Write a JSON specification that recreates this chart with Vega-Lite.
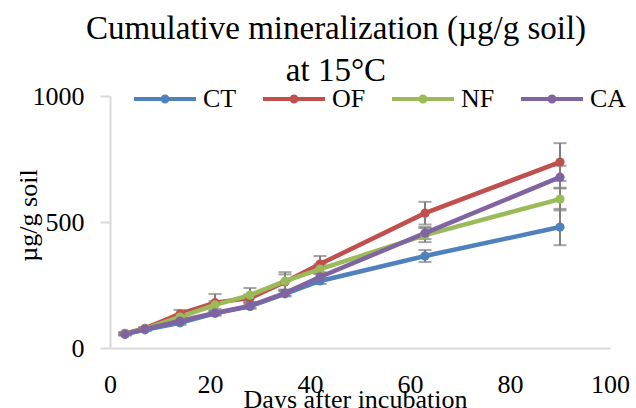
{
  "$schema": "https://vega.github.io/schema/vega-lite/v6.json",
  "width": 500,
  "height": 252,
  "autosize": "none",
  "padding": {"left": 110, "top": 96, "right": 26, "bottom": 60},
  "background": "white",
  "title": {
    "text": ["Cumulative mineralization (µg/g soil)", "at 15°C"],
    "font": "Liberation Serif",
    "fontSize": 33,
    "fontWeight": "normal",
    "color": "black",
    "lineHeight": 42,
    "anchor": "middle",
    "frame": "group",
    "dx": -24,
    "offset": -22
  },
  "config": {
    "font": "Liberation Serif",
    "view": {"stroke": null},
    "axis": {
      "grid": false,
      "domainColor": "#d9d9d9",
      "domainWidth": 2,
      "tickColor": "#d9d9d9",
      "tickWidth": 2,
      "labelFont": "Liberation Serif",
      "labelFontSize": 26,
      "labelColor": "black",
      "titleFont": "Liberation Serif",
      "titleFontSize": 26,
      "titleFontWeight": "normal",
      "titleColor": "black"
    }
  },
  "data": {
    "values": [
      {"day": 3, "treatment": "CT", "value": 55, "lo": 50, "hi": 60},
      {"day": 7, "treatment": "CT", "value": 72, "lo": 67, "hi": 77},
      {"day": 14, "treatment": "CT", "value": 100, "lo": 92, "hi": 108},
      {"day": 21, "treatment": "CT", "value": 138, "lo": 130, "hi": 146},
      {"day": 28, "treatment": "CT", "value": 165, "lo": 157, "hi": 173},
      {"day": 35, "treatment": "CT", "value": 215, "lo": 205, "hi": 225},
      {"day": 42, "treatment": "CT", "value": 266, "lo": 254, "hi": 278},
      {"day": 63, "treatment": "CT", "value": 365, "lo": 341, "hi": 389},
      {"day": 90, "treatment": "CT", "value": 480, "lo": 408, "hi": 552},
      {"day": 3, "treatment": "OF", "value": 58, "lo": 53, "hi": 63},
      {"day": 7, "treatment": "OF", "value": 78, "lo": 73, "hi": 83},
      {"day": 14, "treatment": "OF", "value": 135, "lo": 119, "hi": 151},
      {"day": 21, "treatment": "OF", "value": 180, "lo": 146, "hi": 214},
      {"day": 28, "treatment": "OF", "value": 198, "lo": 183, "hi": 213},
      {"day": 35, "treatment": "OF", "value": 262, "lo": 232, "hi": 292},
      {"day": 42, "treatment": "OF", "value": 333, "lo": 301, "hi": 365},
      {"day": 63, "treatment": "OF", "value": 535, "lo": 490, "hi": 580},
      {"day": 90, "treatment": "OF", "value": 738, "lo": 663, "hi": 813},
      {"day": 3, "treatment": "NF", "value": 57, "lo": 52, "hi": 62},
      {"day": 7, "treatment": "NF", "value": 76, "lo": 71, "hi": 81},
      {"day": 14, "treatment": "NF", "value": 123, "lo": 113, "hi": 133},
      {"day": 21, "treatment": "NF", "value": 171, "lo": 156, "hi": 186},
      {"day": 28, "treatment": "NF", "value": 210, "lo": 182, "hi": 238},
      {"day": 35, "treatment": "NF", "value": 265, "lo": 229, "hi": 301},
      {"day": 42, "treatment": "NF", "value": 313, "lo": 293, "hi": 333},
      {"day": 63, "treatment": "NF", "value": 448, "lo": 420, "hi": 476},
      {"day": 90, "treatment": "NF", "value": 591, "lo": 546, "hi": 636},
      {"day": 3, "treatment": "CA", "value": 55, "lo": 50, "hi": 60},
      {"day": 7, "treatment": "CA", "value": 75, "lo": 70, "hi": 80},
      {"day": 14, "treatment": "CA", "value": 107, "lo": 97, "hi": 117},
      {"day": 21, "treatment": "CA", "value": 139, "lo": 129, "hi": 149},
      {"day": 28, "treatment": "CA", "value": 167, "lo": 157, "hi": 177},
      {"day": 35, "treatment": "CA", "value": 218, "lo": 208, "hi": 228},
      {"day": 42, "treatment": "CA", "value": 282, "lo": 267, "hi": 297},
      {"day": 63, "treatment": "CA", "value": 456, "lo": 432, "hi": 480},
      {"day": 90, "treatment": "CA", "value": 678, "lo": 633, "hi": 723}
    ]
  },
  "encoding": {
    "x": {
      "field": "day",
      "type": "quantitative",
      "scale": {"domain": [0, 100], "nice": false},
      "axis": {
        "values": [0, 20, 40, 60, 80, 100],
        "ticks": false,
        "tickSize": 0,
        "labelPadding": 23,
        "labelFlush": false,
        "title": "Days after incubation",
        "titleX": 245,
        "titleY": 59,
        "titleBaseline": "alphabetic",
        "titleAlign": "center"
      }
    }
  },
  "layer": [
    {
      "mark": {
        "type": "errorbar",
        "ticks": {"size": 13, "thickness": 2, "color": "#808080"},
        "rule": {"strokeWidth": 2, "color": "#808080"}
      },
      "encoding": {
        "y": {
          "field": "lo",
          "type": "quantitative",
          "scale": {"domain": [0, 1000], "nice": false},
          "axis": {
            "values": [0, 500, 1000],
            "format": "d",
            "tickSize": 10,
            "labelPadding": 16,
            "labelFlush": false,
            "title": "µg/g soil",
            "titleAngle": -90,
            "titleX": -74,
            "titleY": 119,
            "titleBaseline": "alphabetic",
            "titleAlign": "center"
          }
        },
        "y2": {"field": "hi"},
        "detail": {"field": "treatment"}
      }
    },
    {
      "mark": {"type": "line", "strokeWidth": 4.5},
      "encoding": {
        "y": {"field": "value", "type": "quantitative"},
        "color": {
          "field": "treatment",
          "type": "nominal",
          "scale": {"domain": ["CT", "OF", "NF", "CA"], "range": ["#4F81BD", "#C0504D", "#9BBB59", "#8064A2"]},
          "legend": {
            "title": null,
            "orient": "none",
            "direction": "horizontal",
            "legendX": 22,
            "legendY": -30,
            "gridAlign": "all",
            "symbolType": "M-1,0H1M-0.08,0A0.08,0.08,0,1,1,0.08,0A0.08,0.08,0,1,1,-0.08,0Z",
            "symbolSize": 3844,
            "symbolStrokeWidth": 4,
            "labelFont": "Liberation Serif",
            "labelFontSize": 26,
            "labelColor": "black",
            "labelOffset": 5,
            "columnPadding": 15,
            "padding": 0
          }
        }
      }
    },
    {
      "mark": {"type": "point", "filled": true, "size": 85, "opacity": 1},
      "encoding": {
        "y": {"field": "value", "type": "quantitative"},
        "color": {"field": "treatment", "type": "nominal"}
      }
    }
  ]
}
